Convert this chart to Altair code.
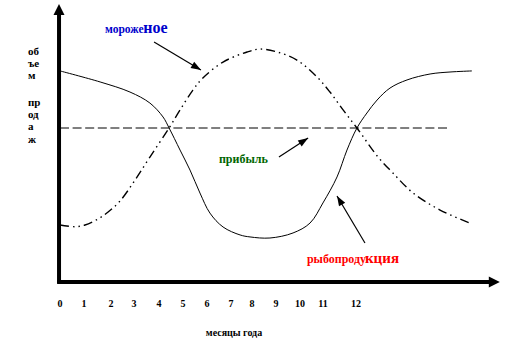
import math
import altair as alt
import pandas as pd

# ---------------- data (months on x, sales volume on y) ----------------
months_fish = [0.00, 1.65, 2.88, 3.70, 4.24, 4.49, 4.94, 5.35, 5.76, 6.17, 6.71, 7.41, 7.82,
               8.64, 9.59, 10.29, 10.82, 11.40, 11.81, 12.22, 12.63, 13.05, 13.58, 14.28,
               15.23, 16.05, 16.95]
fish = [137.3, 130.1, 123.5, 116.3, 107.2, 100.0, 85.6, 72.5, 57.5, 44.4, 35.3, 30.1, 28.8,
        28.1, 31.4, 37.9, 51.0, 68.0, 85.6, 100.0, 109.8, 118.3, 126.1, 131.4,
        135.3, 136.6, 137.3]

months_ice = [0.00, 0.62, 1.03, 1.56, 1.98, 2.47, 3.09, 3.70, 4.49, 4.94, 5.47, 5.88, 6.71,
              7.70, 8.23, 8.93, 9.75, 10.58, 11.11, 11.65, 12.22, 13.09, 13.70, 14.53,
              15.64, 16.95]
ice = [36.6, 35.5, 36.6, 40.5, 45.1, 52.3, 66.0, 81.0, 100.0, 111.8, 124.8, 132.7, 143.1,
       149.7, 151.6, 149.7, 144.4, 133.3, 123.5, 111.8, 100.0, 81.0, 70.6, 57.5,
       46.4, 37.3]

profit_months = [0.0, 16.05]
profit_level = [100.0, 100.0]

tick_labels = ["0", "1", "2", "3", "4", "5", "6", "7", "8", "9", "10", "11", "12"]
tick_pos = [0.0, 0.99, 2.10, 3.05, 4.07, 5.06, 6.05, 7.04, 7.90, 8.89, 9.88, 10.82, 12.18]

x_title = "месяцы года"
y_title_top = ["об", "ъе", "м"]
y_title_bottom = ["пр", "од", "а", "ж"]

# annotation arrows: from (label) -> to (curve)
arrow_from_x = [3.87, 9.01, 12.55]
arrow_from_y = [156.2, 81.0, 24.8]
arrow_to_x = [5.80, 10.21, 11.40]
arrow_to_y = [137.9, 93.5, 55.6]

# ---------------- layout ----------------
W, H = 509, 352
PX_X, PX_Y = 24.3, 1.53
ORIG_X, ORIG_Y = 60, 281
xs = alt.Scale(domain=[-ORIG_X / PX_X, (W - ORIG_X) / PX_X], nice=False, zero=False)
ys = alt.Scale(domain=[-(H - ORIG_Y) / PX_Y, ORIG_Y / PX_Y], nice=False, zero=False)
FONT = "Liberation Serif"


def X(f="x"):
    return alt.X(f"{f}:Q", scale=xs, axis=None)


def Y(f="y"):
    return alt.Y(f"{f}:Q", scale=ys, axis=None)


fish_df = pd.DataFrame({"x": months_fish, "y": fish})
ice_df = pd.DataFrame({"x": months_ice, "y": ice})
profit_df = pd.DataFrame({"x": profit_months, "y": profit_level})

fish_line = alt.Chart(fish_df).mark_line(
    color="black", strokeWidth=1, interpolate="catmull-rom"
).encode(x=X(), y=Y())

ice_line = alt.Chart(ice_df).mark_line(
    color="black", strokeWidth=1.4, interpolate="catmull-rom",
    strokeDash=[9, 4, 1.5, 4, 1.5, 4]
).encode(x=X(), y=Y())

profit_line = alt.Chart(profit_df).mark_line(
    color="black", strokeWidth=1, strokeDash=[9, 3.6]
).encode(x=X(), y=Y())

# axes with arrowheads
axes_df = pd.DataFrame({
    "x": [-0.04, -0.12], "y": [-1.3, -0.65],
    "x2": [-0.04, 17.7], "y2": [174.5, -0.65],
})
axes_rules = alt.Chart(axes_df).mark_rule(color="black", strokeWidth=4).encode(
    x=X(), y=Y(), x2="x2:Q", y2="y2:Q"
)
axes_heads_df = pd.DataFrame({"x": [-0.04, 18.1], "y": [181.0, -0.65], "angle": [0, 90]})
axes_heads = alt.Chart(axes_heads_df).mark_point(
    shape="M0,0L-0.5,1L0.5,1Z", size=484, filled=True, color="black", opacity=1, strokeWidth=0
).encode(x=X(), y=Y(), angle=alt.Angle("angle:Q", scale=None))

# annotation arrows
arr_df = pd.DataFrame({"x": arrow_from_x, "y": arrow_from_y, "x2": arrow_to_x, "y2": arrow_to_y})
arr_df["angle"] = [
    (math.degrees(math.atan2((x2 - x1) * PX_X, (y2 - y1) * PX_Y)) + 360) % 360
    for x1, y1, x2, y2 in zip(arrow_from_x, arrow_from_y, arrow_to_x, arrow_to_y)
]
arrow_lines = alt.Chart(arr_df).mark_rule(color="black", strokeWidth=1.2).encode(
    x=X(), y=Y(), x2="x2:Q", y2="y2:Q"
)
arrow_heads = alt.Chart(arr_df).mark_point(
    shape="M0,0L-0.36,1L0.36,1Z", size=400, filled=True, color="black", opacity=1, strokeWidth=0
).encode(x=X("x2"), y=Y("y2"), angle=alt.Angle("angle:Q", scale=None))


def label(x, y, text, size, color, align="left"):
    df = pd.DataFrame({"x": [x], "y": [y], "t": [text]})
    return alt.Chart(df).mark_text(
        font=FONT, fontWeight="bold", fontSize=size, color=color,
        align=align, baseline="alphabetic"
    ).encode(x=X(), y=Y(), text="t:N")


labels = [
    label(1.85, 162.1, "мороже", 11.5, "#0000CC"),
    label(3.43, 162.1, "ное", 16, "#0000CC"),
    label(6.54, 76.8, "прибыль", 12, "#006600"),
    label(10.16, 11.8, "рыбопроду", 12, "#FF0000"),
    label(12.55, 11.8, "кция", 15, "#FF0000"),
    label(7.16, -35.9, x_title, 10, "black", align="center"),
]

ticks_df = pd.DataFrame({"x": tick_pos, "y": [-17.0] * len(tick_pos), "t": tick_labels})
ticks = alt.Chart(ticks_df).mark_text(
    font=FONT, fontWeight="bold", fontSize=10, color="black", align="center", baseline="alphabetic"
).encode(x=X(), y=Y(), text="t:N")


def ylines(lines, y):
    df = pd.DataFrame({"x": [-1.32], "y": [y]})
    return alt.Chart(df).mark_text(
        text=lines, lineHeight=12.2, font=FONT, fontWeight="bold", fontSize=11,
        color="black", align="left", baseline="alphabetic"
    ).encode(x=X(), y=Y())


ytitle_top = ylines(y_title_top, 147.7)
ytitle_bottom = ylines(y_title_bottom, 114.4)

chart = alt.layer(
    profit_line, ice_line, fish_line, axes_rules, axes_heads,
    arrow_lines, arrow_heads, ticks, ytitle_top, ytitle_bottom, *labels
).properties(
    width=W, height=H, padding=0, autosize=alt.AutoSizeParams(type="none"), background="white"
).configure_view(stroke=None)

chart.save("out.html", embed_options={"renderer": "svg", "actions": False})
